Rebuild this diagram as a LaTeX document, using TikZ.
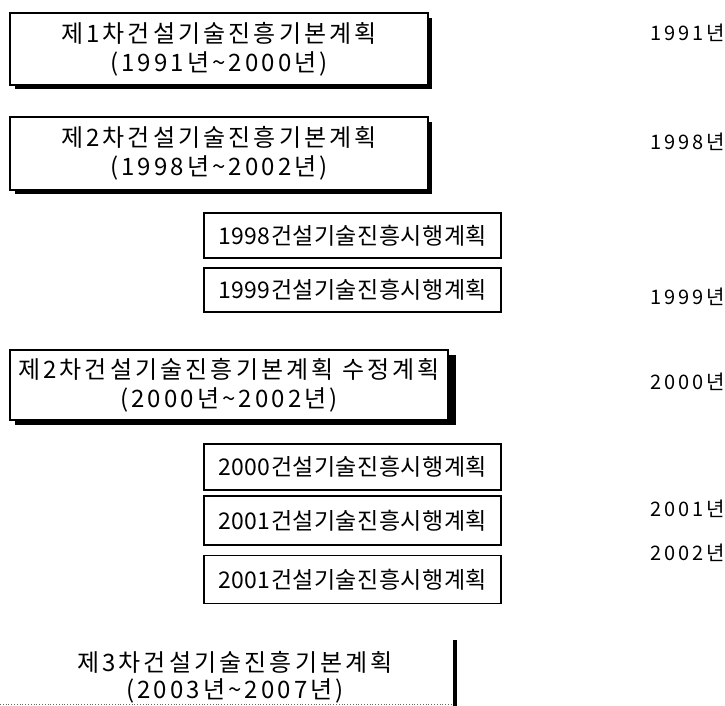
\documentclass[tikz,border=0pt]{standalone}
\usepackage{fontspec}
\setmainfont{Noto Sans CJK KR}
\newfontfamily\kr{Noto Sans CJK KR}
\newfontfamily\krtitle[LetterSpace=13]{Noto Sans CJK KR}
\newfontfamily\krsmall[LetterSpace=2]{Noto Sans CJK KR}
\newfontfamily\kryear[LetterSpace=15]{Noto Sans CJK KR}
\begin{document}
\begin{tikzpicture}[x=1pt,y=-1pt,
  bigbox/.style={draw=black,line width=1.3pt,fill=white,align=center,inner sep=0pt,
    font=\krtitle\fontsize{24}{29}\selectfont},
  smallbox/.style={draw=black,line width=1.3pt,fill=white,inner sep=0pt,
    font=\krsmall\fontsize{23}{26}\selectfont},
  yearlbl/.style={anchor=east,inner sep=0pt,font=\kryear\fontsize{20}{22}\selectfont},
  shadowfill/.style={fill=black}]
\useasboundingbox (0,0) rectangle (725,706);
% shadows
\fill[shadowfill] (15,18) rectangle (432,89);
\fill[shadowfill] (15,122) rectangle (432,194);
\fill[shadowfill] (15,355) rectangle (456,425);
% big boxes
\node[bigbox,minimum width=418pt,minimum height=72pt] (b1) at (219,49)
  {제1차건설기술진흥기본계획\\(1991년\textasciitilde2000년)};
\node[bigbox,minimum width=418pt,minimum height=73pt] (b2) at (219,153.5)
  {제2차건설기술진흥기본계획\\(1998년\textasciitilde2002년)};
\node[bigbox,minimum width=438pt,minimum height=70pt] (b3) at (229,385)
  {제2차건설기술진흥기본계획 수정계획\\(2000년\textasciitilde2002년)};
% small boxes
\node[smallbox,minimum width=297pt,minimum height=45pt] (s1) at (352.5,235.5) {1998건설기술진흥시행계획};
\node[smallbox,minimum width=297pt,minimum height=44pt] (s2) at (352.5,290) {1999건설기술진흥시행계획};
\node[smallbox,minimum width=297pt,minimum height=46pt] (s3) at (352.5,467) {2000건설기술진흥시행계획};
\node[smallbox,minimum width=297pt,minimum height=49pt] (s4) at (352.5,520.5) {2001건설기술진흥시행계획};
\node[smallbox,minimum width=297pt,minimum height=48pt] (s5) at (352.5,579.5) {2001건설기술진흥시행계획};
% last box (open)
\node[align=center,inner sep=0pt,font=\krtitle\fontsize{24}{27}\selectfont] (b4) at (235,677)
  {제3차건설기술진흥기본계획\\(2003년\textasciitilde2007년)};
\coordinate (b4tr) at (455,640);
\coordinate (b4br) at (455,706);
\coordinate (b4bl) at (0,704);
\draw[line width=4pt] (b4tr) -- (b4br);
\draw[line width=0.8pt,dotted,black!60] (b4bl) -- (452,704);
% years
\node[yearlbl] (y1) at (725,33) {1991년};
\node[yearlbl] (y2) at (725,142) {1998년};
\node[yearlbl] (y3) at (725,297) {1999년};
\node[yearlbl] (y4) at (725,382) {2000년};
\node[yearlbl] (y5) at (725,509) {2001년};
\node[yearlbl] (y6) at (725,553) {2002년};
\end{tikzpicture}
\end{document}
